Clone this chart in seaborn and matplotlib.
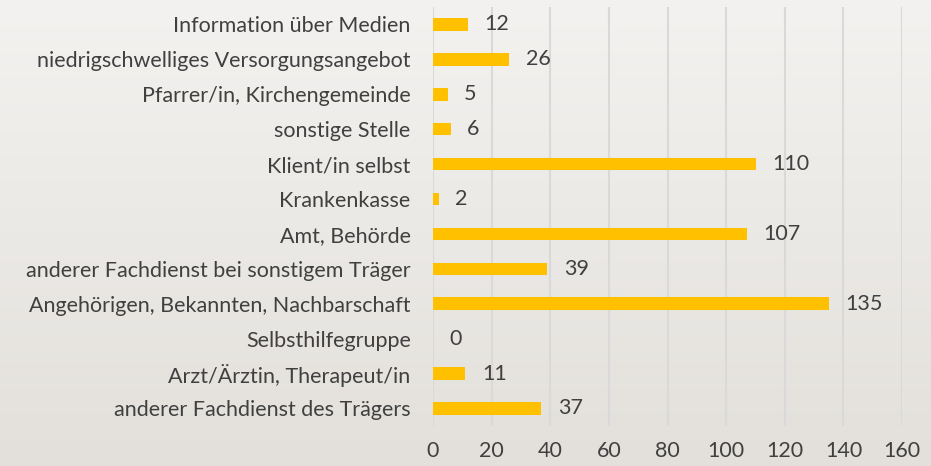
import numpy as np
import pandas as pd
import matplotlib
matplotlib.use("Agg")
import matplotlib.pyplot as plt
import seaborn as sns

categories = [
    "Information über Medien",
    "niedrigschwelliges Versorgungsangebot",
    "Pfarrer/in, Kirchengemeinde",
    "sonstige Stelle",
    "Klient/in selbst",
    "Krankenkasse",
    "Amt, Behörde",
    "anderer Fachdienst bei sonstigem Träger",
    "Angehörigen, Bekannten, Nachbarschaft",
    "Selbsthilfegruppe",
    "Arzt/Ärztin, Therapeut/in",
    "anderer Fachdienst des Trägers",
]
values = [12, 26, 5, 6, 110, 2, 107, 39, 135, 0, 11, 37]
xticks = [0, 20, 40, 60, 80, 100, 120, 140, 160]

sns.set_theme(style="white")
plt.rcParams['font.family'] = ['Lato', 'DejaVu Sans']

df = pd.DataFrame({"cat": categories, "val": values})

fig = plt.figure(figsize=(9.31, 4.66), dpi=100)
# background gradient
bg = fig.add_axes([0, 0, 1, 1], zorder=-10)
grad = np.linspace(0, 1, 256).reshape(-1, 1)
top = np.array([0xf3, 0xf2, 0xf0]) / 255
bot = np.array([0xe3, 0xe0, 0xdb]) / 255
img = top[None, None, :] * (1 - grad[:, :, None]) + bot[None, None, :] * grad[:, :, None]
bg.imshow(img, aspect="auto", extent=[0, 1, 0, 1])
bg.axis("off")

ax = fig.add_axes([0.465, 0.086, 0.504, 0.899])
ax.patch.set_alpha(0)
sns.barplot(data=df, x="val", y="cat", color="#FFC000", width=0.36, ax=ax,
            saturation=1, order=categories, linewidth=0, edgecolor="none")
ax.set_xlim(0, 160)
ax.set_ylim(11.5, -0.5)
ax.set_xticks(xticks)
ax.set_xticklabels([str(t) for t in xticks])
ax.grid(axis="x", color="#d9d9d9", linewidth=1.5)
ax.set_axisbelow(True)
for s in ax.spines.values():
    s.set_visible(False)
ax.set_xlabel("")
ax.set_ylabel("")
ax.tick_params(axis="both", length=0, labelsize=15.5, colors="#404040")
ax.tick_params(axis="y", pad=16)
ax.tick_params(axis="x", pad=11)
for c in ax.containers:
    ax.bar_label(c, labels=[str(v) for v in values], padding=12, fontsize=15.5, color="#404040")

fig.savefig("out.png", dpi=100)
